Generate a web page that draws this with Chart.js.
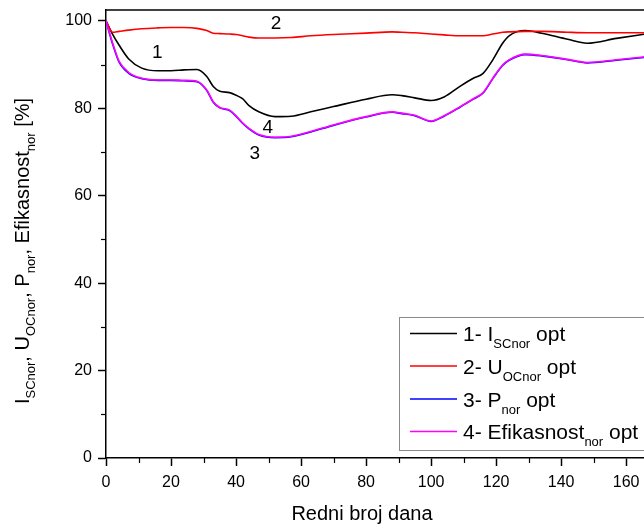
<!DOCTYPE html>
<html><head><meta charset="utf-8">
<script src="https://cdn.jsdelivr.net/npm/chart.js@4/dist/chart.umd.min.js"></script>
<style>html,body{margin:0;padding:0;background:#fff;overflow:hidden}#wrap{width:644px;height:524px;position:relative;overflow:hidden}</style>
</head><body><div id="wrap"><canvas id="c" width="644" height="524"></canvas></div>
<script>
// ---- data ----
const days   = [0, 2, 4, 7, 11, 16, 20, 24, 28, 31, 33, 35, 38, 40, 42, 44, 47, 52, 57, 63, 70, 80, 88, 91, 95, 100, 104, 109, 113, 116, 119, 122, 124, 129, 134, 142, 148, 157, 166];
const iscNor = [100, 97.0, 94.5, 91.3, 89.2, 88.6, 88.6, 88.8, 88.9, 87.3, 85.0, 83.9, 83.6, 83.0, 82.2, 80.6, 79.2, 78.1, 78.2, 79.2, 80.4, 82.1, 83.1, 82.9, 82.4, 81.8, 82.6, 85.1, 86.9, 88.0, 91.1, 94.9, 96.6, 97.8, 97.2, 95.8, 94.9, 96.0, 97.0];
const uocNor = [100, 97.4, 97.6, 97.9, 98.2, 98.4, 98.5, 98.5, 98.3, 97.8, 97.2, 97.1, 97.0, 96.9, 96.6, 96.3, 96.1, 96.1, 96.2, 96.6, 96.9, 97.2, 97.5, 97.4, 97.3, 97.0, 96.8, 96.6, 96.6, 96.6, 97.0, 97.4, 97.5, 97.6, 97.6, 97.4, 97.3, 97.3, 97.3];
const pNor   = [100, 94.8, 90.6, 88.0, 86.8, 86.4, 86.4, 86.3, 86.1, 84.1, 81.4, 80.1, 79.5, 78.2, 76.6, 75.3, 73.9, 73.3, 73.5, 74.6, 76.1, 78.0, 79.1, 78.8, 78.3, 77.0, 78.2, 80.3, 82.1, 83.5, 86.8, 89.8, 91.0, 92.3, 92.0, 91.1, 90.4, 91.0, 91.7];
const effNor = [100, 95.0, 90.8, 88.2, 86.9, 86.5, 86.5, 86.4, 86.2, 84.2, 81.5, 80.2, 79.6, 78.3, 76.7, 75.4, 74.0, 73.4, 73.6, 74.7, 76.2, 78.1, 79.2, 78.9, 78.4, 77.1, 78.3, 80.4, 82.2, 83.6, 86.9, 89.9, 91.1, 92.4, 92.1, 91.2, 90.5, 91.1, 91.8];
const xTickLabels = [0, 20, 40, 60, 80, 100, 120, 140, 160];
const yTickLabels = [0, 20, 40, 60, 80, 100];
const curveTags = [
  {text: '1', x: 15.8, y: 92.7},
  {text: '2', x: 52.3, y: 99.3},
  {text: '4', x: 49.8, y: 75.5},
  {text: '3', x: 45.8, y: 69.6}
];
const legendItems = [
  {color: '#000000', runs: [['1- I', 0], ['SCnor', 1], [' opt', 0]]},
  {color: '#ff0000', runs: [['2- U', 0], ['OCnor', 1], [' opt', 0]]},
  {color: '#0000ff', runs: [['3- P', 0], ['nor', 1], [' opt', 0]]},
  {color: '#ff00ff', runs: [['4- Efikasnost', 0], ['nor', 1], [' opt', 0]]}
];
const yTitleRuns = [['I', 0], ['SCnor', 1], [', U', 0], ['OCnor', 1], [', P', 0], ['nor', 1], [', Efikasnost', 0], ['nor', 1], [' [%]', 0]];
const xTitle = 'Redni broj dana';

const FONT = "'Liberation Sans', Arial, sans-serif";
const pts = arr => days.map((d, i) => ({x: d, y: arr[i]}));

function runsWidth(ctx, runs, big, small) {
  let w = 0;
  for (const [t, sub] of runs) { ctx.font = (sub ? small : big) + 'px ' + FONT; w += ctx.measureText(t).width; }
  return w;
}
function drawRuns(ctx, runs, x, y, big, small, subDy) {
  for (const [t, sub] of runs) {
    ctx.font = (sub ? small : big) + 'px ' + FONT;
    ctx.fillText(t, x, sub ? y + subDy : y);
    x += ctx.measureText(t).width;
  }
}

const decor = {
  id: 'decor',
  afterDraw(chart) {
    const ctx = chart.ctx, xs = chart.scales.x, ys = chart.scales.y, ca = chart.chartArea;
    ctx.save();
    ctx.strokeStyle = '#000'; ctx.lineWidth = 1.5;
    // top frame line
    ctx.beginPath(); ctx.moveTo(ca.left, ca.top); ctx.lineTo(ca.right + 2, ca.top); ctx.stroke();
    // minor ticks
    ctx.lineWidth = 1.2;
    for (let v = 10; v < 166; v += 20) {
      const px = Math.round(xs.getPixelForValue(v)) + 0.5;
      ctx.beginPath(); ctx.moveTo(px, ca.bottom); ctx.lineTo(px, ca.bottom + 5); ctx.stroke();
    }
    for (let v = 10; v < 102; v += 20) {
      const py = Math.round(ys.getPixelForValue(v)) + 0.5;
      ctx.beginPath(); ctx.moveTo(ca.left, py); ctx.lineTo(ca.left - 5, py); ctx.stroke();
    }
    // curve tags
    ctx.fillStyle = '#000'; ctx.textAlign = 'center'; ctx.textBaseline = 'middle';
    ctx.font = '19px ' + FONT;
    for (const t of curveTags) ctx.fillText(t.text, xs.getPixelForValue(t.x), ys.getPixelForValue(t.y));
    // x title
    ctx.textBaseline = 'alphabetic';
    ctx.font = '20px ' + FONT;
    ctx.fillText(xTitle, 362, 520);
    // y title (rotated)
    ctx.textAlign = 'left';
    ctx.save();
    ctx.translate(29, 251);
    ctx.rotate(-Math.PI / 2);
    const w = runsWidth(ctx, yTitleRuns, 20, 13);
    drawRuns(ctx, yTitleRuns, -w / 2, 0, 20, 13, 6);
    ctx.restore();
    // legend
    ctx.strokeStyle = '#8a8a8a'; ctx.lineWidth = 1;
    ctx.strokeRect(399.5, 317.5, 300, 133);
    const rows = [333.5, 366, 399, 431.5];
    legendItems.forEach((it, i) => {
      ctx.strokeStyle = it.color; ctx.lineWidth = 1.5;
      ctx.beginPath(); ctx.moveTo(410, rows[i]); ctx.lineTo(457, rows[i]); ctx.stroke();
      ctx.fillStyle = '#000';
      drawRuns(ctx, it.runs, 463, rows[i] + 7.5, 21, 13, 7);
    });
    ctx.restore();
  }
};

const mk = (label, data, color, order) => ({
  label, data: pts(data), borderColor: color, backgroundColor: color,
  borderWidth: 1.6, pointRadius: 0, cubicInterpolationMode: 'monotone', order, fill: false
});

new Chart(document.getElementById('c'), {
  type: 'line',
  data: {
    datasets: [
      mk('1- ISCnor opt', iscNor, '#000000', 3),
      mk('2- UOCnor opt', uocNor, '#ff0000', 2),
      mk('3- Pnor opt', pNor, '#0000ff', 1),
      mk('4- Efikasnostnor opt', effNor, '#ff00ff', 0)
    ]
  },
  options: {
    responsive: false, animation: false, devicePixelRatio: 1,
    layout: {padding: {left: 0, right: 0, top: 10, bottom: 0}},
    plugins: {legend: {display: false}, tooltip: {enabled: false}},
    scales: {
      x: {
        type: 'linear', min: 0, max: 165.5,
        afterFit: s => { s.height = 66; s.paddingLeft = 0; s.paddingRight = 0; },
        border: {color: '#000', width: 1.5},
        grid: {drawOnChartArea: false, tickLength: 8, tickWidth: 1.5,
               tickColor: c => (xTickLabels.includes(c.tick.value) ? '#000' : 'rgba(0,0,0,0)')},
        ticks: {stepSize: 20, includeBounds: false, autoSkip: false, maxRotation: 0, padding: 7,
                color: '#000', font: {family: FONT, size: 16},
                callback: v => (xTickLabels.includes(v) ? String(v) : '')}
      },
      y: {
        min: 0, max: 102.5,
        afterFit: s => { s.width = 106; s.paddingTop = 0; s.paddingBottom = 0; },
        border: {color: '#000', width: 1.5},
        grid: {drawOnChartArea: false, tickLength: 8, tickWidth: 1.5,
               tickColor: c => (yTickLabels.includes(c.tick.value) ? '#000' : 'rgba(0,0,0,0)')},
        ticks: {stepSize: 20, includeBounds: false, autoSkip: false, padding: 6,
                color: '#000', font: {family: FONT, size: 16},
                callback: v => (yTickLabels.includes(v) ? String(v) : '')}
      }
    }
  },
  plugins: [decor]
});
</script></body></html>
